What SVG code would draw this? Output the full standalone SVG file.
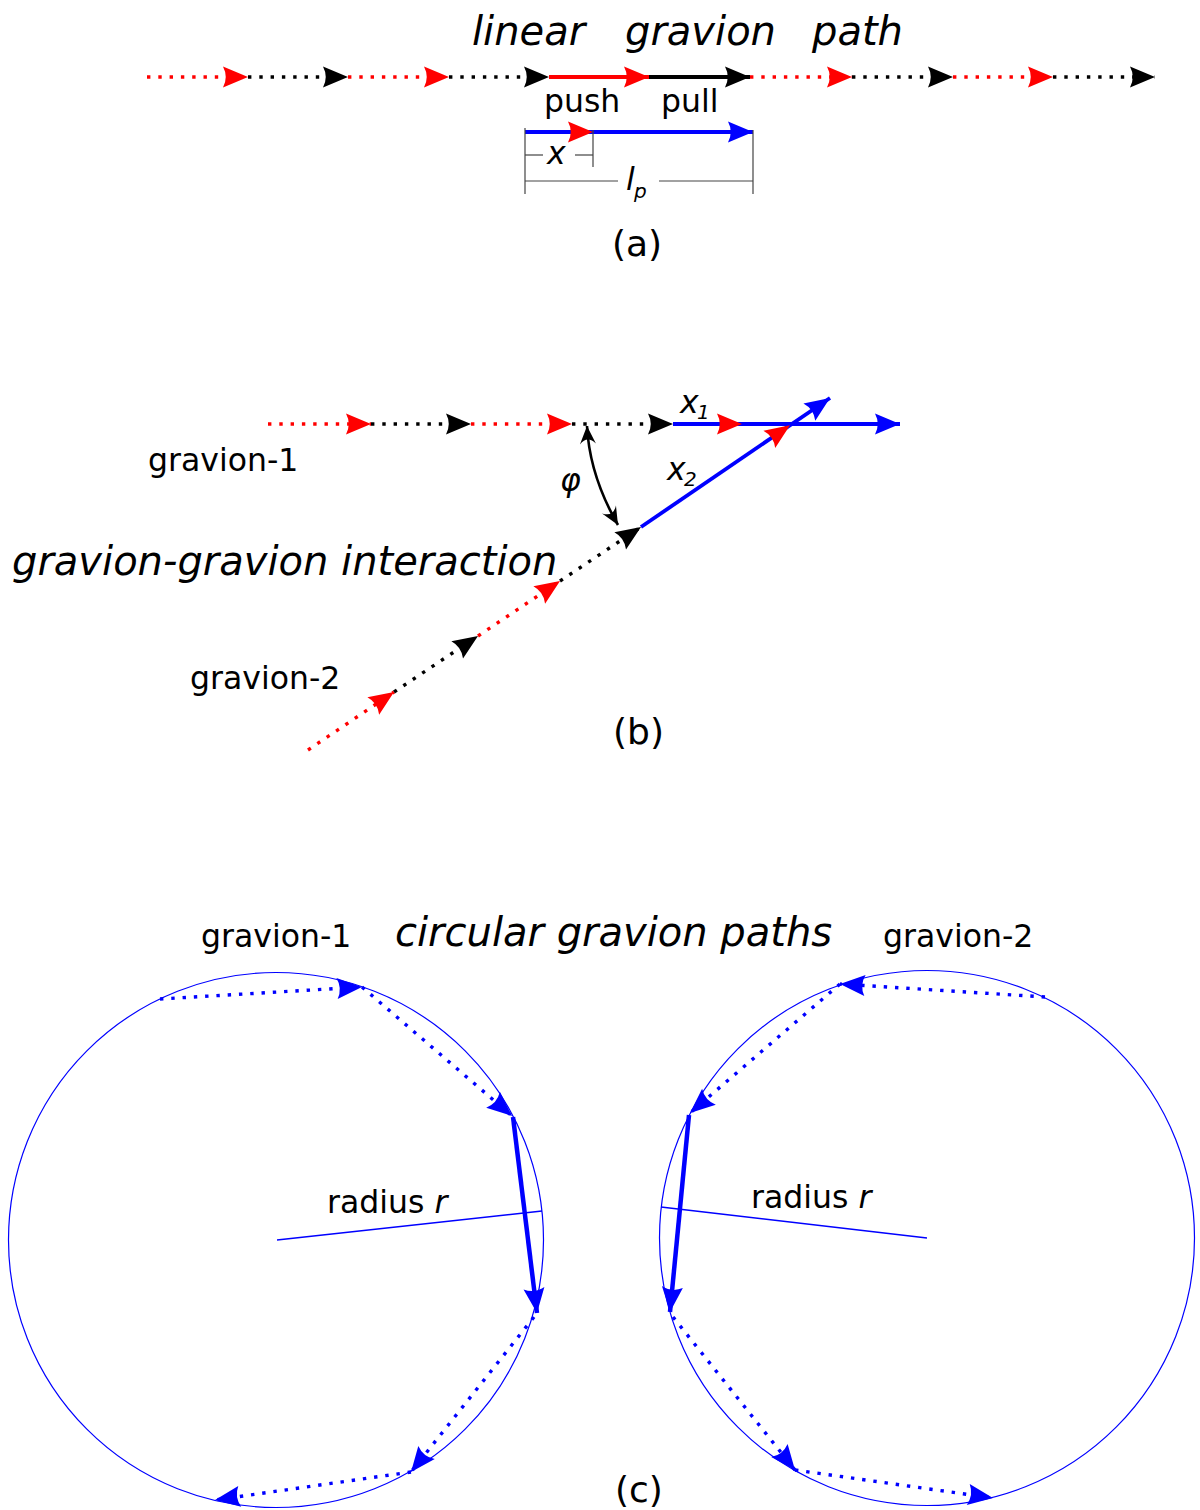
<svg xmlns="http://www.w3.org/2000/svg" width="1200" height="1510" viewBox="0 0 1200 1510">
<style>
text{font-family:"DejaVu Sans","Liberation Sans",sans-serif;fill:#000}
.t31{font-size:31.5px}
.t40{font-size:40px;font-style:italic}
.t36{font-size:36px}
.it{font-style:italic}
.sub{font-size:20px;font-style:italic}
.dot{fill:none;stroke-width:3.4;stroke-dasharray:3.4 7.9}
.sol{fill:none;stroke-width:3.8}
.r{stroke:#f00}.k{stroke:#000}.b{stroke:#00f}
.mr{marker-end:url(#mr)}.mk{marker-end:url(#mk)}.mb{marker-end:url(#mb)}
.dim{stroke:#444;stroke-width:1.2;fill:none}
.circ{fill:none;stroke:#00f;stroke-width:1.2}
.rad{fill:none;stroke:#00f;stroke-width:1.5}
.thick{stroke-width:4.5}
</style>
<defs>
<path id="head" d="M0,0 L-25,-10.5 Q-19.5,0 -25,10.5 Z"/>
<marker id="mr" viewBox="-26 -12 28 24" refX="0" refY="0" markerWidth="28" markerHeight="24" markerUnits="userSpaceOnUse" orient="auto"><use href="#head" fill="#f00"/></marker>
<marker id="mk" viewBox="-26 -12 28 24" refX="0" refY="0" markerWidth="28" markerHeight="24" markerUnits="userSpaceOnUse" orient="auto"><use href="#head" fill="#000"/></marker>
<marker id="mb" viewBox="-26 -12 28 24" refX="0" refY="0" markerWidth="28" markerHeight="24" markerUnits="userSpaceOnUse" orient="auto"><use href="#head" fill="#00f"/></marker>
<marker id="mphi" viewBox="-20 -10 22 20" refX="0" refY="0" markerWidth="22" markerHeight="20" markerUnits="userSpaceOnUse" orient="auto-start-reverse"><path d="M0,0 L-18,-8 Q-9,0 -18,8 Z" fill="#000"/></marker>
</defs>

<g id="panel-a-labels">
<text class="t40" x="472" y="45">linear</text>
<text class="t40" x="625" y="45">gravion</text>
<text class="t40" x="812" y="45">path</text>
<text class="t31" x="544" y="112">push</text>
<text class="t31" x="661" y="112">pull</text>
<text class="t31 it" x="547" y="164">x</text>
<text class="t31 it" x="626" y="190">l</text><text class="sub" x="634" y="198">p</text>
<text class="t36" x="612" y="256">(a)</text>
</g>

<g id="panel-b-labels">
<text class="t31" x="148" y="471">gravion-1</text>
<text class="t31 it" x="680" y="413">x</text><text class="sub" x="697" y="419">1</text>
<text class="t31 it" x="667" y="480">x</text><text class="sub" x="684" y="486">2</text>
<text class="t31 it" x="560" y="491">φ</text>
<text class="t40" x="12" y="575">gravion-gravion interaction</text>
<text class="t31" x="190" y="689">gravion-2</text>
<text class="t36" x="613" y="744">(b)</text>
</g>

<g id="panel-c-labels">
<text class="t31" x="201" y="947">gravion-1</text>
<text class="t40" x="395" y="946">circular gravion paths</text>
<text class="t31" x="883" y="947">gravion-2</text>
<text class="t31" x="327" y="1213">radius <tspan class="it">r</tspan></text>
<text class="t31" x="751" y="1208">radius <tspan class="it">r</tspan></text>
<text class="t36" x="615" y="1502">(c)</text>
</g>

<g id="circle-1">
<circle class="circ" cx="276" cy="1240" r="267.5"/>
<line class="rad" x1="277" y1="1240" x2="542" y2="1211"/>
</g>
<g id="circle-2">
<circle class="circ" cx="927" cy="1238" r="267.5"/>
<line class="rad" x1="927" y1="1238" x2="661" y2="1207"/>
</g>

<g id="connectors">
<line class="dot r mr" x1="147" y1="77" x2="248" y2="77"/>
<line class="dot k mk" x1="248" y1="77" x2="348" y2="77"/>
<line class="dot r mr" x1="348" y1="77" x2="449" y2="77"/>
<line class="dot k mk" x1="449" y1="77" x2="549" y2="77"/>
<line class="sol r mr" x1="549" y1="77" x2="649" y2="77"/>
<line class="sol k mk" x1="649" y1="77" x2="750" y2="77"/>
<line class="dot r mr" x1="750" y1="77" x2="852" y2="77"/>
<line class="dot k mk" x1="852" y1="77" x2="953" y2="77"/>
<line class="dot r mr" x1="953" y1="77" x2="1053" y2="77"/>
<line class="dot k mk" x1="1053" y1="77" x2="1155" y2="77"/>
<line class="sol b mb" x1="525" y1="132" x2="753" y2="132"/>
<path d="M570,132 L593,132" stroke="none" fill="none" class="mr"/>
<line class="dim" x1="525" y1="128" x2="525" y2="194"/>
<line class="dim" x1="593" y1="130" x2="593" y2="167"/>
<line class="dim" x1="753" y1="130" x2="753" y2="194"/>
<line class="dim" x1="525" y1="155" x2="543" y2="155"/>
<line class="dim" x1="575" y1="155" x2="593" y2="155"/>
<line class="dim" x1="525" y1="181" x2="618" y2="181"/>
<line class="dim" x1="659" y1="181" x2="753" y2="181"/>

<line class="dot r mr" x1="268" y1="424" x2="371" y2="424"/>
<line class="dot k mk" x1="371" y1="424" x2="471" y2="424"/>
<line class="dot r mr" x1="471" y1="424" x2="572" y2="424"/>
<line class="dot k mk" x1="572" y1="424" x2="673" y2="424"/>
<line class="sol b mb" x1="673" y1="424" x2="900" y2="424"/>
<path d="M720,424 L742,424" stroke="none" fill="none" class="mr"/>
<line class="dot r mr" x1="308" y1="750" x2="394" y2="692"/>
<line class="dot k mk" x1="394" y1="692" x2="478" y2="636"/>
<line class="dot r mr" x1="478" y1="636" x2="560" y2="581"/>
<line class="dot k mk" x1="560" y1="581" x2="641" y2="527"/>
<line class="sol b mb" x1="641" y1="527" x2="830" y2="398"/>
<path d="M772,437.5 L790,425.3" stroke="none" fill="none" class="mr"/>
<path d="M587,426 Q589.5,475.5 618,525" fill="none" stroke="#000" stroke-width="2.6" marker-start="url(#mphi)" marker-end="url(#mphi)"/>

<line class="dot b mb" x1="160" y1="999" x2="362" y2="987"/>
<line class="dot b mb" x1="362" y1="987" x2="512" y2="1116"/>
<line class="sol b mb thick" x1="513" y1="1117" x2="537" y2="1313"/>
<line class="dot b mb" x1="534" y1="1317" x2="411" y2="1472"/>
<line class="dot b mb" x1="411" y1="1472" x2="215" y2="1500"/>

<line class="dot b mb" x1="1045" y1="997" x2="840" y2="984"/>
<line class="dot b mb" x1="840" y1="984" x2="690" y2="1113"/>
<line class="sol b mb thick" x1="689" y1="1115" x2="670" y2="1312"/>
<line class="dot b mb" x1="673" y1="1317" x2="795" y2="1470"/>
<line class="dot b mb" x1="795" y1="1470" x2="993" y2="1498"/>
</g>
</svg>
